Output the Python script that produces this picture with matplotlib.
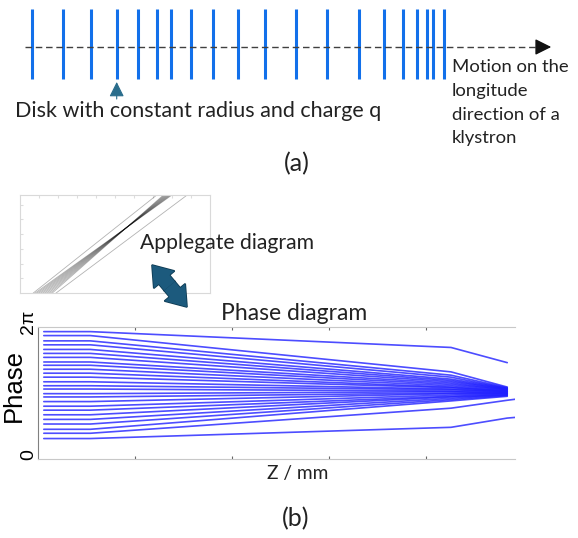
import matplotlib.pyplot as plt
import numpy as np
from matplotlib.patches import FancyArrow

# (a) disk positions along the klystron axis (pixels of the sketch)
disk_x = [31.5, 63, 90.7, 116.7, 138.1, 157.4, 171.1, 190.7, 213, 238.1,
          265.2, 296.3, 326.7, 358.5, 384.4, 403, 416.7, 426.7, 433.3, 443.7]

# Applegate inset: where each trajectory enters (bottom) and leaves (top)
apple_x0 = [0.07, 0.08, 0.09, 0.10, 0.11, 0.12, 0.13, 0.14, 0.15, 0.16, 0.17, 0.19]
apple_x1 = [0.72, 0.80, 0.795, 0.79, 0.785, 0.78, 0.775, 0.77, 0.765, 0.76, 0.755, 0.88]

# phase diagram: Z knots (mm) and phase of each disk (units of pi) at those knots
phase_z = [3, 27, 213, 242, 250]
phase_start = [1.93, 1.87, 1.79, 1.73, 1.66, 1.60, 1.54, 1.47, 1.42, 1.36, 1.30, 1.24, 1.17,
               1.11, 1.06, 0.99, 0.94, 0.87, 0.80, 0.74, 0.67, 0.60, 0.53, 0.45, 0.39, 0.31]
phase_213 = [1.69, 1.32, 1.27, 1.24, 1.21, 1.19, 1.17, 1.15, 1.13, 1.11, 1.09, 1.08, 1.06,
             1.05, 1.03, 1.02, 1.00, 0.99, 0.97, 0.95, 0.94, 0.92, 0.90, 0.88, 0.77, 0.48]
phase_242 = [1.46, 1.09, 1.08, 1.07, 1.07, 1.06, 1.06, 1.05, 1.05, 1.04, 1.03, 1.03, 1.02,
             1.02, 1.01, 1.00, 1.00, 0.99, 0.99, 0.98, 0.97, 0.97, 0.96, 0.95, 0.89, 0.62]
phase_250 = [np.nan] * 24 + [0.92, 0.64]

F = ['Lato', 'DejaVu Sans']
A = ['Liberation Sans', 'DejaVu Sans']
TXT = '#222222'

fig = plt.figure(figsize=(5.78, 5.38), dpi=100)

# ---- phase diagram
ax = fig.add_axes([38/578, 1-459/538, 477/578, 132/538])
for i in range(len(phase_start)):
    ys = np.array([phase_start[i], phase_start[i], phase_213[i], phase_242[i], phase_250[i]], dtype=float)
    ax.plot(phase_z, ys*np.pi, color='#2020ff', lw=1.2, alpha=0.8, solid_capstyle='round')
ax.set_xlim(0, 246)
ax.set_ylim(0, 2*np.pi)
ax.spines['right'].set_visible(False)
ax.spines['top'].set_color('#c8c8c8')
ax.spines['bottom'].set_color('#c8c8c8')
ax.spines['left'].set_color('#808080')
ax.set_xticks([50, 100, 150, 200])
ax.set_xticklabels([])
ax.tick_params(axis='x', direction='in', top=True, length=2.5, color='#666666', width=0.8)
ax.set_yticks([])

# ---- Applegate inset
axi = fig.add_axes([20/578, 1-293/538, 190/578, 98/538])
for a, b in zip(apple_x0, apple_x1):
    axi.plot([a, b], [0, 1], color='k', lw=0.6, alpha=0.3)
axi.set_xlim(0, 1)
axi.set_ylim(0, 1)
for s in axi.spines.values():
    s.set_color('#d9d9d9')
    s.set_linewidth(0.8)
axi.set_xticks(np.arange(0.1, 1.0, 0.1))
axi.set_yticks(np.arange(0.15, 1.0, 0.15))
axi.set_xticklabels([])
axi.set_yticklabels([])
axi.tick_params(direction='in', top=True, bottom=False, length=2.5, color='#dddddd')

# ---- overlay for sketch (a) and annotations, pixel coordinates
ax0 = fig.add_axes([0, 0, 1, 1], zorder=5)
ax0.set_xlim(0, 578)
ax0.set_ylim(538, 0)
ax0.axis('off')
ax0.patch.set_alpha(0)

ax0.vlines(disk_x, 9, 79, color='#1270ea', lw=2.2)
ax0.plot([25, 545], [47, 47], color='#404040', lw=1, dashes=(4.7, 2.7))
ax0.annotate('', xy=(554, 47), xytext=(543, 47),
             arrowprops=dict(arrowstyle='-|>,head_length=0.7,head_width=0.35',
                             color='#111111', lw=1, mutation_scale=14))
ax0.annotate('', xy=(116.7, 82), xytext=(116.7, 99),
             arrowprops=dict(arrowstyle='-|>,head_length=0.6,head_width=0.3',
                             color='#2a6d8c', lw=0.8, mutation_scale=15,
                             shrinkA=0, shrinkB=0))

ax0.text(15, 111, 'Disk with constant radius and charge q', fontsize=15.5,
         family=F, va='center', ha='left', color=TXT)
ax0.text(452, 59, 'Motion on the\nlongitude\ndirection of a\nklystron', fontsize=13.3,
         family=F, va='top', ha='left', linespacing=1.6, color=TXT)
ax0.text(297, 164, '(a)', fontsize=18, family=F, ha='center', va='center', color=TXT)

ax0.text(140, 243, 'Applegate diagram', fontsize=15.2, family=F, va='center', ha='left', color=TXT)
ax0.text(294, 313, 'Phase diagram', fontsize=16.5, family=F, ha='center', va='center', color=TXT)
ax0.text(298, 474, 'Z / mm', fontsize=13.8, family=F, ha='center', va='center', color=TXT)
ax0.text(296, 519, '(b)', fontsize=18, family=F, ha='center', va='center', color=TXT)
ax0.text(14, 386, 'Phase', rotation=90, fontsize=18.5, family=A, ha='center', va='center')
ax0.text(29, 322, '2π', rotation=90, fontsize=14, family=A, ha='center', va='center')
ax0.text(29, 455, '0', rotation=90, fontsize=14, family=A, ha='center', va='center')

# teal double arrow between the two diagrams
ends = [(152, 265), (187, 307)]
cx, cy = (ends[0][0] + ends[1][0]) / 2, (ends[0][1] + ends[1][1]) / 2
for ex, ey in ends:
    ax0.add_patch(FancyArrow(cx, cy, ex-cx, ey-cy, width=14, head_width=27, head_length=19,
                             length_includes_head=True, fc='#1c5a7d', ec='#0e3a52', lw=1.2))
for ex, ey in ends:
    ax0.add_patch(FancyArrow(cx, cy, ex-cx, ey-cy, width=14, head_width=27, head_length=19,
                             length_includes_head=True, fc='#1c5a7d', ec='none'))

fig.savefig('out.png', dpi=100)
